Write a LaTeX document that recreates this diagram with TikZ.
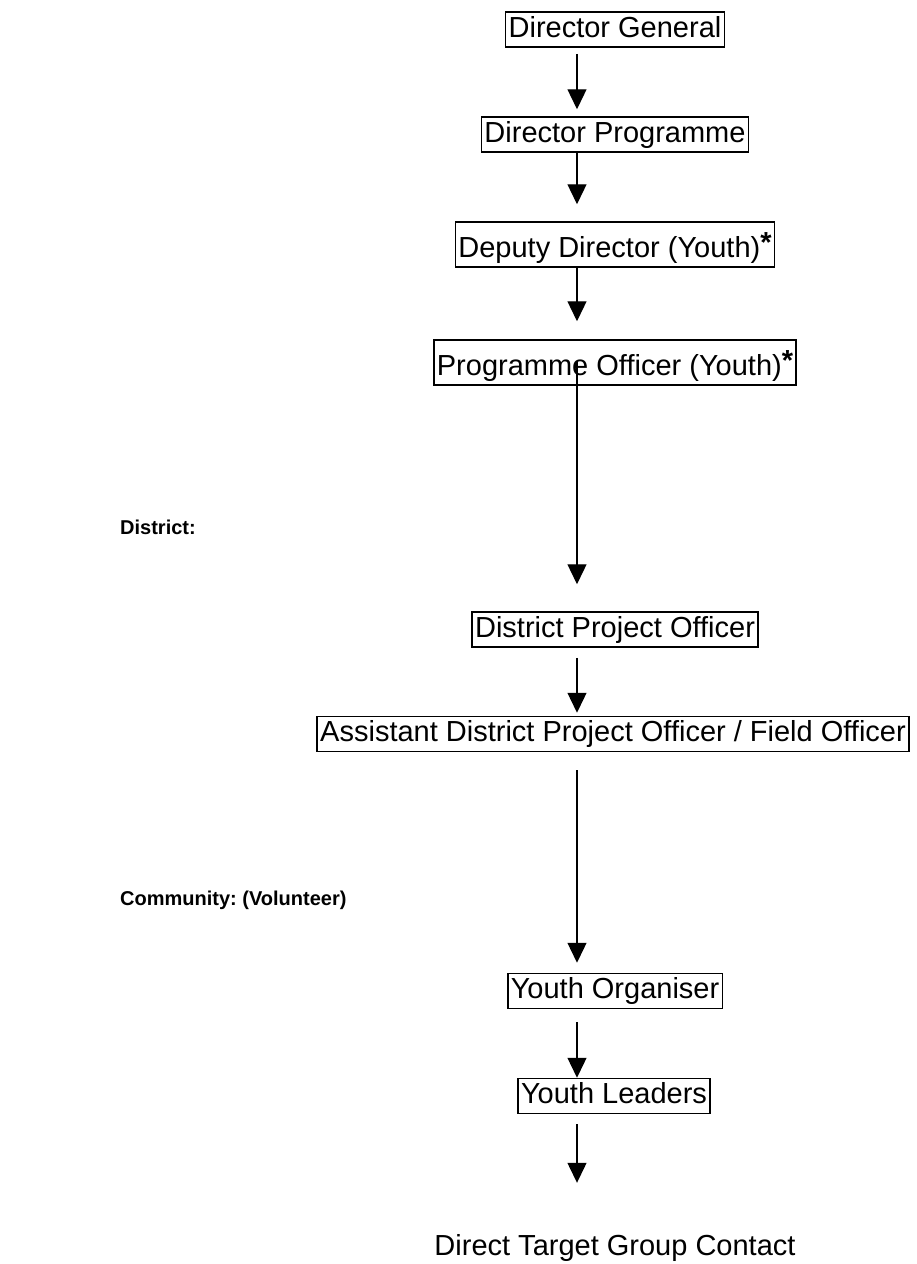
\documentclass[tikz,border=0pt]{standalone}
\usepackage{fontspec}
\setmainfont{Liberation Sans}
\usetikzlibrary{arrows.meta}
\frenchspacing
\tikzset{
  box/.style={draw, line width=1.5pt, inner xsep=3pt, inner ysep=3pt,
    text height=22pt, text depth=7pt, font=\fontsize{29}{34}\selectfont},
  starbox/.style={box, text height=32pt},
  plain/.style={inner sep=0pt, font=\fontsize{29}{34}\selectfont},
  lbl/.style={inner sep=0pt, anchor=base west, font=\fontsize{20}{24}\selectfont\bfseries},
  arr/.style={line width=1.3pt, -{Triangle[width=19pt,length=20pt]}},
}
\newcommand{\astx}{{\bfseries\raisebox{5pt}{*}}}
\begin{document}
\begin{tikzpicture}[x=1pt,y=1pt]
\useasboundingbox (0,0) rectangle (916,-1264);
\node[box] (dg) at (615,-29.5) {Director General};
\node[box] (dp) at (615,-134.5) {Director Programme};
\node[starbox] (dd) at (615,-244.5) {Deputy Director (Youth)\astx};
\node[starbox] (po) at (615,-362.5) {Programme Officer (Youth)\astx};
\node[box] (dpo) at (615,-629.5) {District Project Officer};
\node[box] (adpo) at (613,-734) {Assistant District Project Officer / Field Officer};
\node[box] (yo) at (615,-991) {Youth Organiser};
\node[box] (yl) at (614,-1096) {Youth Leaders};
\node[plain, anchor=base] (dtgc) at (615,-1255) {Direct Target Group Contact};
\node[lbl] (district) at (120,-534) {District:};
\node[lbl] (community) at (120,-905) {Community: (Volunteer)};
\draw[arr] ([xshift=-38pt,yshift=-6pt]dg.south) -- ([xshift=-38pt,yshift=7pt]dp.north);
\draw[arr] ([xshift=-38pt]dp.south) -- ([xshift=-38pt,yshift=17pt]dd.north);
\draw[arr] ([xshift=-38pt]dd.south) -- ([xshift=-38pt,yshift=18pt]po.north);
\draw[arr] ([xshift=-38pt,yshift=25pt]po.south) -- ([xshift=-38pt,yshift=27pt]dpo.north);
\draw[arr] ([xshift=-38pt,yshift=-10pt]dpo.south) -- ([xshift=-36pt,yshift=3pt]adpo.north);
\draw[arr] ([xshift=-36pt,yshift=-18pt]adpo.south) -- ([xshift=-38pt,yshift=10pt]yo.north);
\draw[arr] ([xshift=-38pt,yshift=-13pt]yo.south) -- ([xshift=-37pt]yl.north);
\draw[arr] ([xshift=-37pt,yshift=-10pt]yl.south) -- ([xshift=-38pt,yshift=51pt]dtgc.north);
\end{tikzpicture}
\end{document}
